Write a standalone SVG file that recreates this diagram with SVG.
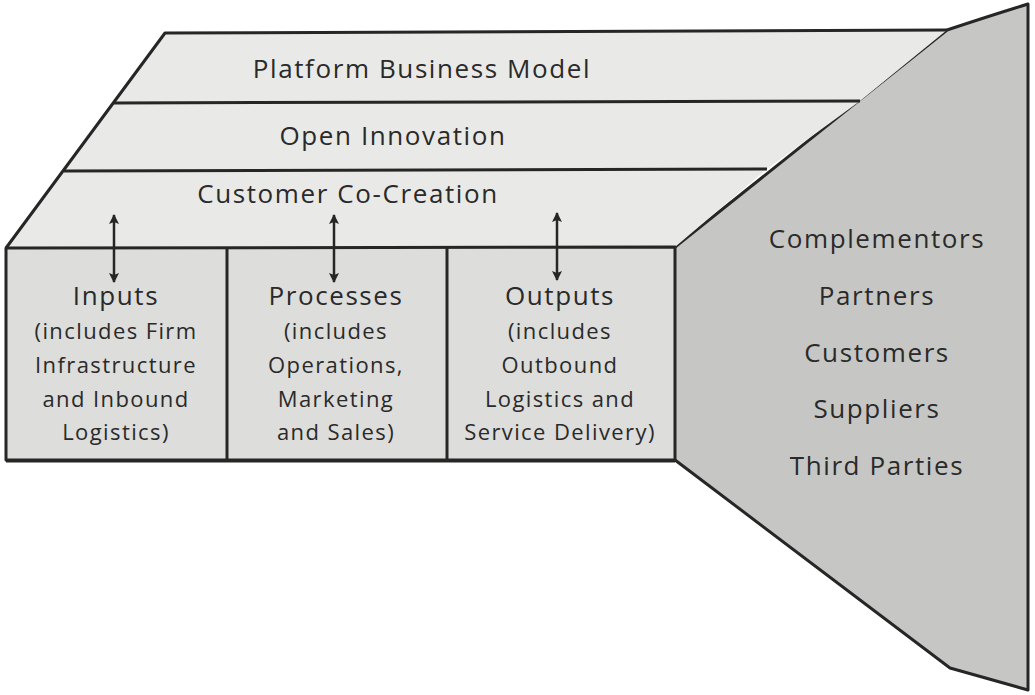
<svg xmlns="http://www.w3.org/2000/svg" width="1035" height="695" viewBox="0 0 1035 695">
<defs>
<style>
.ln{stroke:#262626;stroke-width:3;stroke-linejoin:round;fill:none}
.band{fill:#e9e9e7}
.box{fill:#dddddb}
.side{fill:#c6c6c4}
.t{font-family:"Open Sans",Lato,sans-serif;fill:#2a2a2a;text-anchor:middle}
.big{font-size:26px;letter-spacing:1.6px}
.sm{font-size:22px;letter-spacing:1.4px}
.arr{stroke:#262626;stroke-width:2.5;fill:none;marker-start:url(#ah);marker-end:url(#ah)}
</style>
<marker id="ah" viewBox="0 0 10 10" refX="9" refY="5" markerWidth="13" markerHeight="10" orient="auto-start-reverse" markerUnits="userSpaceOnUse">
<path d="M0,0 L10,5 L0,10 L2,5 Z" fill="#262626"/>
</marker>
</defs>
<rect width="1035" height="695" fill="#ffffff"/>
<g id="side-panel">
<path class="side" d="M947,30 Q992,15 1028,4 L1028,690 L950,668 L675,460 L675,247 Z"/>
<path class="ln" d="M947,30 Q992,15 1028,4 L1028,690 L950,668 L675,460"/>
<path class="ln" d="M947,30 L675,247"/>
<text class="t big" x="877" y="248">Complementors</text>
<text class="t big" x="877" y="305">Partners</text>
<text class="t big" x="877" y="362">Customers</text>
<text class="t big" x="877" y="418">Suppliers</text>
<text class="t big" x="877" y="475">Third Parties</text>
</g>
<g id="band-platform">
<path class="band" d="M165,33 L947,30 L860,101 L114,103 Z"/>
<text class="t big" x="422" y="78">Platform Business Model</text>
</g>
<g id="band-open-innovation">
<path class="band" d="M114,103 L860,101 L767,169 L64,171 Z"/>
<text class="t big" x="393" y="145">Open Innovation</text>
</g>
<g id="band-co-creation">
<path class="band" d="M64,171 L767,169 L675,247 L6,248 Z"/>
<text class="t big" x="348" y="203">Customer Co-Creation</text>
</g>
<g id="band-lines">
<path class="ln" d="M6,248 L165,33 L947,30"/>
<path class="ln" d="M114,103 L860,101"/>
<path class="ln" d="M64,171 L767,169"/>
</g>
<g id="node-inputs">
<rect class="box" x="6" y="248" width="221" height="212"/>
<text class="t big" x="116" y="305">Inputs</text>
<text class="t sm" x="116" y="339">(includes Firm</text>
<text class="t sm" x="116" y="373">Infrastructure</text>
<text class="t sm" x="116" y="407">and Inbound</text>
<text class="t sm" x="116" y="440">Logistics)</text>
</g>
<g id="node-processes">
<rect class="box" x="227" y="248" width="220" height="212"/>
<text class="t big" x="336" y="305">Processes</text>
<text class="t sm" x="336" y="339">(includes</text>
<text class="t sm" x="336" y="373">Operations,</text>
<text class="t sm" x="336" y="407">Marketing</text>
<text class="t sm" x="336" y="440">and Sales)</text>
</g>
<g id="node-outputs">
<rect class="box" x="447" y="248" width="228" height="212"/>
<text class="t big" x="560" y="305">Outputs</text>
<text class="t sm" x="560" y="339">(includes</text>
<text class="t sm" x="560" y="373">Outbound</text>
<text class="t sm" x="560" y="407">Logistics and</text>
<text class="t sm" x="560" y="440">Service Delivery)</text>
</g>
<g id="front-lines">
<path class="ln" d="M6,248 L675,247 L675,460 L6,460 Z"/>
<path class="ln" d="M6,461 L675,461" stroke-width="4"/>
<path class="ln" d="M227,248 L227,460"/>
<path class="ln" d="M447,248 L447,460"/>
</g>
<g id="connectors">
<line class="arr" x1="114" y1="215" x2="114" y2="282"/>
<line class="arr" x1="334" y1="215" x2="334" y2="282"/>
<line class="arr" x1="557" y1="213" x2="557" y2="280"/>
</g>
</svg>
